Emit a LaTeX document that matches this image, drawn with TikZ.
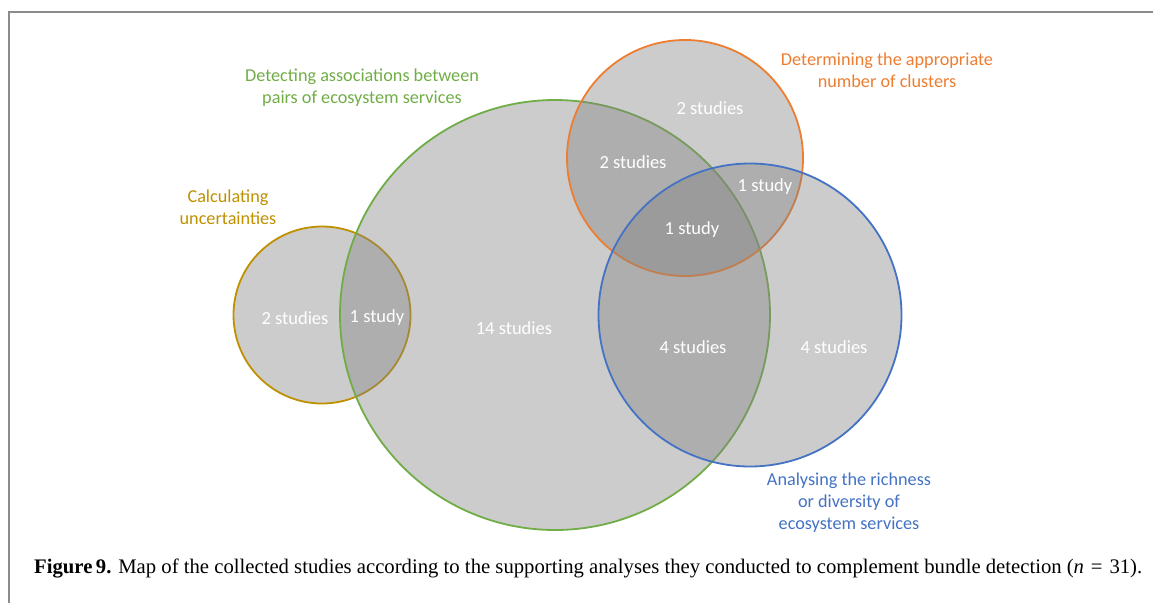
\documentclass[tikz,border=0pt]{standalone}
\usepackage{fontspec}
\setmainfont{Liberation Serif}
\newfontfamily\calib{Carlito}
\definecolor{cgreen}{HTML}{70AD47}
\definecolor{corange}{HTML}{ED7D31}
\definecolor{cblue}{HTML}{4472C4}
\definecolor{cgold}{HTML}{BF9000}
\definecolor{frame}{HTML}{8C8C8C}
\tikzset{
  set/.style={circle, inner sep=0pt, fill=gray, fill opacity=0.4, line width=1.8pt},
  count/.style={text=white, font=\calib\fontsize{18.5}{21}\selectfont, inner sep=0pt},
  title/.style={align=center, font=\calib\fontsize{18.2}{22}\selectfont, inner sep=0pt},
}
\begin{document}
\begin{tikzpicture}[x=1pt,y=-1pt]
\useasboundingbox (0,0) rectangle (1153,603);
\draw[frame, line width=2pt] (9,603) -- (9,12) -- (1153,12);
% circles
\node[set, draw=cgold, minimum size=177pt] (calc) at (322,315) {};
\node[set, draw=cgreen, minimum size=430pt] (detect) at (555,315) {};
\node[set, draw=corange, minimum size=236pt] (clus) at (685,158) {};
\node[set, draw=cblue, minimum size=303pt] (rich) at (750,315) {};
% titles
\node[title, text=cgreen] (tdetect) at (362,88) {Detecting associations between\\pairs of ecosystem services};
\node[title, text=corange] (tclus) at (887,70) {Determining the appropriate\\number of clusters};
\node[title, text=cgold] (tcalc) at (228,207) {Calculating\\uncertainties};
\node[title, text=cblue] (trich) at (849,503) {Analysing the richness\\or diversity of\\ecosystem services};
% counts
\node[count] (n1) at (295,318) {2 studies};
\node[count] (n2) at (377,318) {1 study};
\node[count] (n3) at (514,328) {14 studies};
\node[count] (n4) at (710,108) {2 studies};
\node[count] (n5) at (633,162) {2 studies};
\node[count] (n6) at (765,187) {1 study};
\node[count] (n7) at (692,230) {1 study};
\node[count] (n8) at (693,347) {4 studies};
\node[count] (n9) at (834,347) {4 studies};
% caption
\node[anchor=west, inner sep=0pt, font=\fontsize{20.7}{23}\selectfont] (cap) at (34,568)
  {\textbf{Figure\,9.} Map of the collected studies according to the supporting analyses they conducted to complement bundle detection (\textit{n}\,\,=\,\,31).};
\end{tikzpicture}
\end{document}
